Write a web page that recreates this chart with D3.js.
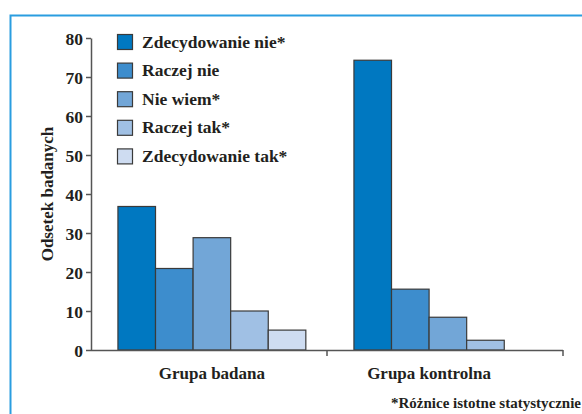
<!DOCTYPE html>
<html>
<head>
<meta charset="utf-8">
<script src="https://cdn.jsdelivr.net/npm/d3@7"></script>
<style>
  body { margin: 0; background: #fff; }
</style>
</head>
<body>
<div id="chart"></div>
<script>
// data
const groups = ['Grupa badana', 'Grupa kontrolna'];
const answers = ['Zdecydowanie nie*', 'Raczej nie', 'Nie wiem*', 'Raczej tak*', 'Zdecydowanie tak*'];
const badana = [36.8, 20.9, 28.8, 10, 5.1];
const kontrolna = [74.3, 15.6, 8.4, 2.5, 0];
const yTicks = [0, 10, 20, 30, 40, 50, 60, 70, 80];
const colors = ['#0078c1', '#3d8dcd', '#72a6d7', '#a0c0e4', '#cedcf1'];

const series = [badana, kontrolna];
const FONT = "'Liberation Serif'";

const W = 582, H = 414;
const margin = { top: 38, right: 19, bottom: 64, left: 91 };
const width = W - margin.left - margin.right;
const height = H - margin.top - margin.bottom;

const svg = d3.select('#chart')
    .append('svg')
    .attr('width', W)
    .attr('height', H);

// set font on each text directly
function styleText(sel, size) {
    return sel
        .attr('fill', '#231f20')
        .style('font-family', FONT)
        .style('font-size', size + 'px')
        .style('font-weight', 'bold');
}

// frame lines (top + left)
svg.append('path')
    .attr('d', `M10.5,${H} L10.5,15.5 L${W},15.5`)
    .attr('fill', 'none')
    .attr('stroke', '#2a9de0')
    .attr('stroke-width', 2);

const g = svg.append('g')
    .attr('transform', `translate(${margin.left},${margin.top})`);

const x0 = d3.scaleBand()
    .domain(groups)
    .range([0, width])
    .paddingInner(0)
    .paddingOuter(0);

const x1 = d3.scaleBand()
    .domain(answers)
    .range([0, x0.bandwidth()])
    .paddingInner(0)
    .paddingOuter(0.64)
    .align(0.56);

const y = d3.scaleLinear()
    .domain([0, 80])
    .range([height, 0]);

// bars
groups.forEach((grp, gi) => {
    g.selectAll('.bar-' + gi)
        .data(answers.map((a, i) => ({ a, v: series[gi][i], c: colors[i] })).filter(d => d.v > 0))
        .enter()
        .append('rect')
        .attr('x', d => x0(grp) + x1(d.a))
        .attr('y', d => y(d.v))
        .attr('width', x1.bandwidth())
        .attr('height', d => y(0) - y(d.v))
        .attr('fill', d => d.c)
        .attr('stroke', '#3a3a3a')
        .attr('stroke-width', 1.2);
});

// y axis
const yAxis = g.append('g')
    .call(d3.axisLeft(y).tickValues(yTicks).tickSize(5).tickSizeOuter(0).tickPadding(3));
yAxis.selectAll('path, line').attr('stroke', '#555').attr('stroke-width', 1.5);
styleText(yAxis.selectAll('text').attr('dy', '0.36em'), 17.5);

// x axis: ticks at band boundaries
const xAxis = g.append('g')
    .attr('transform', `translate(0,${height})`);
xAxis.append('path')
    .attr('d', `M0,0.5 H${width}`)
    .attr('stroke', '#555')
    .attr('stroke-width', 1.5);
xAxis.selectAll('line')
    .data(groups)
    .enter()
    .append('line')
    .attr('x1', d => x0(d) + x0.bandwidth())
    .attr('x2', d => x0(d) + x0.bandwidth())
    .attr('y1', 0)
    .attr('y2', 6)
    .attr('stroke', '#555')
    .attr('stroke-width', 1.5);

// category labels centred under the drawn bars
groups.forEach((grp, gi) => {
    const shown = answers.filter((a, i) => series[gi][i] > 0);
    const left = x0(grp) + x1(shown[0]);
    const right = x0(grp) + x1(shown[shown.length - 1]) + x1.bandwidth();
    styleText(g.append('text'), 17)
        .attr('x', (left + right) / 2)
        .attr('y', height + 29)
        .attr('text-anchor', 'middle')
        .text(grp);
});

// y axis title
styleText(svg.append('text'), 17)
    .attr('transform', 'rotate(-90)')
    .attr('x', -194)
    .attr('y', 53)
    .attr('text-anchor', 'middle')
    .text('Odsetek badanych');

// legend
const legend = svg.append('g')
    .attr('transform', 'translate(117,34)');
answers.forEach((a, i) => {
    const row = legend.append('g')
        .attr('transform', `translate(0,${i * 28.6})`);
    row.append('rect')
        .attr('x', 0.5).attr('y', 0.5)
        .attr('width', 15).attr('height', 15)
        .attr('fill', colors[i])
        .attr('stroke', '#3a3a3a')
        .attr('stroke-width', 1.2);
    styleText(row.append('text'), 17.5)
        .attr('x', 25)
        .attr('y', 13.5)
        .text(a);
});

// footnote
styleText(svg.append('text'), 15)
    .attr('x', 391)
    .attr('y', 408)
    .text('*Różnice istotne statystycznie');
</script>
</body>
</html>
